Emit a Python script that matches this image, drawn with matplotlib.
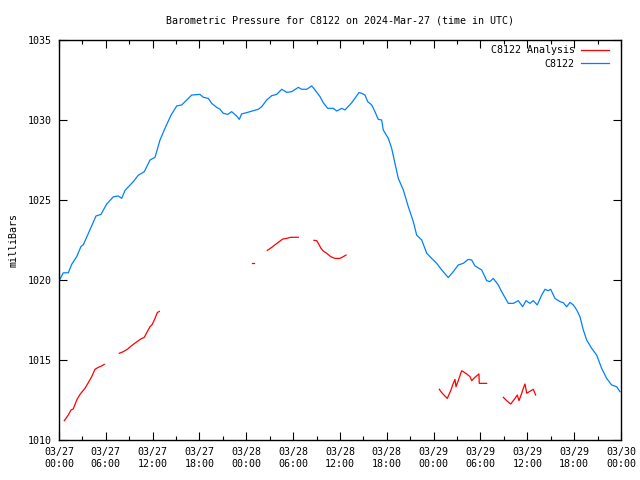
import numpy as np
import pandas as pd
import matplotlib
matplotlib.use("Agg")
import matplotlib.pyplot as plt
import matplotlib.dates as mdates

start = pd.Timestamp("2024-03-27 00:00")

# observed station pressure (hours since start, mb)
obs_hours = [0.0, 0.55, 1.19, 1.63, 2.27, 2.82, 3.11, 3.75, 4.74, 5.38, 6.11, 6.96, 7.6, 8.03,
             8.46, 9.52, 10.16, 10.93, 11.66, 12.3, 12.94, 13.58, 14.35, 15.08, 15.72, 17.0,
             18.06, 18.49, 19.13, 19.56, 20.2, 20.63, 21.05, 21.61, 22.12, 22.76, 23.1, 23.4,
             24.05, 24.89, 25.53, 25.97, 26.61, 27.25, 27.89, 28.53, 29.17, 29.81, 30.66, 31.09,
             31.73, 32.37, 32.8, 33.44, 33.86, 34.42, 35.14, 35.58, 36.22, 36.64, 37.5, 38.43,
             38.78, 39.2, 39.55, 40.06, 40.48, 40.9, 41.34, 41.54, 42.19, 42.62, 43.04, 43.47,
             44.11, 44.75, 45.39, 45.82, 46.47, 47.11, 47.75, 48.39, 49.03, 49.87, 50.51, 51.15,
             51.79, 52.43, 52.87, 53.29, 54.15, 54.79, 55.21, 55.64, 56.28, 56.71, 57.56, 58.2,
             58.84, 59.4, 59.83, 60.34, 60.76, 61.27, 61.84, 62.26, 62.68, 62.99, 63.54, 64.18,
             64.6, 65.04, 65.46, 65.89, 66.32, 66.74, 67.17, 67.6, 68.24, 68.88, 69.52, 70.16,
             70.8, 71.45, 71.87]
obs_mb = [1019.94, 1020.45, 1020.45, 1020.98, 1021.46, 1022.1, 1022.2, 1022.9, 1024.0, 1024.1,
          1024.75, 1025.2, 1025.25, 1025.1, 1025.6, 1026.15, 1026.55, 1026.77, 1027.5, 1027.67,
          1028.75, 1029.48, 1030.3, 1030.88, 1030.94, 1031.56, 1031.6, 1031.42, 1031.35, 1031.04,
          1030.79, 1030.67, 1030.42, 1030.35, 1030.52, 1030.25, 1030.04, 1030.38, 1030.46, 1030.58,
          1030.67, 1030.83, 1031.25, 1031.52, 1031.6, 1031.92, 1031.73, 1031.77, 1032.04, 1031.92,
          1031.92, 1032.13, 1031.88, 1031.46, 1031.08, 1030.73, 1030.73, 1030.56, 1030.73, 1030.63,
          1031.08, 1031.71, 1031.67, 1031.56, 1031.15, 1030.94, 1030.52, 1030.04, 1030.0, 1029.38,
          1028.85, 1028.23, 1027.29, 1026.35, 1025.63, 1024.58, 1023.65, 1022.81, 1022.5, 1021.67,
          1021.35, 1021.04, 1020.63, 1020.15, 1020.52, 1020.94, 1021.04, 1021.29, 1021.25, 1020.88,
          1020.63, 1019.96, 1019.9, 1020.1, 1019.69, 1019.27, 1018.54, 1018.54, 1018.71, 1018.33,
          1018.71, 1018.54, 1018.71, 1018.44, 1019.06, 1019.42, 1019.33, 1019.42, 1018.85, 1018.65,
          1018.58, 1018.33, 1018.6, 1018.44, 1018.13, 1017.71, 1016.88, 1016.25, 1015.73, 1015.31,
          1014.48, 1013.85, 1013.44, 1013.33, 1013.02]

# analysis pressure, broken into pieces (gaps between them)
ana_hours = [
    [0.68, 1.19, 1.54, 1.83, 2.27, 2.69, 3.33, 3.75, 4.19, 4.61, 5.03, 5.47, 5.8],
    [7.72, 8.24, 8.75, 9.31, 9.95, 10.47, 10.93, 11.31, 11.66, 11.95, 12.3, 12.59, 12.85],
    [24.69, 24.98],
    [26.69, 27.25, 27.76, 28.22, 28.66, 29.17, 29.68, 30.66],
    [32.67, 33.01, 33.27, 33.56, 33.86, 34.29, 34.81, 35.36, 36.0, 36.42, 36.77],
    [48.72, 49.03, 49.74, 50.18, 50.51, 50.73, 50.86, 51.15, 51.59, 52.23, 52.65, 52.87, 53.29,
     53.8, 53.84, 54.79],
    [56.92, 57.35, 57.87, 58.42, 58.71, 58.93, 59.28, 59.48, 59.7, 59.92, 60.25, 60.76, 61.07],
]
ana_mb = [
    [1011.21, 1011.56, 1011.88, 1011.94, 1012.5, 1012.85, 1013.23, 1013.58, 1013.96, 1014.42,
     1014.54, 1014.63, 1014.73],
    [1015.42, 1015.52, 1015.67, 1015.9, 1016.13, 1016.31, 1016.42, 1016.77, 1017.08, 1017.23,
     1017.6, 1017.96, 1018.04],
    [1021.04, 1021.04],
    [1021.85, 1022.04, 1022.23, 1022.4, 1022.56, 1022.6, 1022.67, 1022.67],
    [1022.48, 1022.46, 1022.25, 1021.98, 1021.81, 1021.67, 1021.46, 1021.35, 1021.35, 1021.46,
     1021.56],
    [1013.17, 1012.96, 1012.6, 1013.08, 1013.54, 1013.79, 1013.33, 1013.71, 1014.33, 1014.13,
     1013.96, 1013.71, 1013.92, 1014.13, 1013.54, 1013.54],
    [1012.67, 1012.46, 1012.25, 1012.6, 1012.81, 1012.46, 1012.92, 1013.23, 1013.5, 1012.92,
     1013.02, 1013.17, 1012.81],
]


def to_time(hours):
    return start + pd.to_timedelta(np.array(hours), unit="h")


plt.rcParams['font.family'] = ['DejaVu Sans Mono']
plt.rcParams['font.size'] = 7.2

fig = plt.figure(figsize=(6.4, 4.8), dpi=100)
ax = fig.add_axes([59 / 640, 40 / 480, 562 / 640, 400 / 480])

for i, (h, p) in enumerate(zip(ana_hours, ana_mb)):
    ax.plot(to_time(h), p, color="#ff0000", lw=0.9,
            label="C8122 Analysis" if i == 0 else None)
ax.plot(to_time(obs_hours), obs_mb, color="#0080ff", lw=0.9, label="C8122")

ax.set_xlim(start, start + pd.Timedelta(hours=72))
ax.set_ylim(1010, 1035)
ax.set_yticks(np.arange(1010, 1036, 5))

ax.xaxis.set_major_locator(mdates.HourLocator(byhour=range(0, 24, 6)))
ax.xaxis.set_minor_locator(mdates.HourLocator(byhour=range(0, 24, 3)))
ax.xaxis.set_major_formatter(mdates.DateFormatter("%m/%d\n%H:%M"))

ax.tick_params(which="both", direction="in", top=True, right=True, color="black")
ax.tick_params(which="major", length=6, width=0.8, pad=5)
ax.tick_params(which="minor", length=3, width=0.8)
for s in ax.spines.values():
    s.set_linewidth(1.0)

ax.set_ylabel("milliBars", labelpad=7)
ax.set_title("Barometric Pressure for C8122 on 2024-Mar-27 (time in UTC)",
             fontsize=7.2, pad=12)

ax.legend(loc="upper right", bbox_to_anchor=(0.988, 1.0), frameon=False,
          markerfirst=False, handlelength=2.8, borderaxespad=0.15,
          labelspacing=0.35, handletextpad=0.6)

fig.savefig("out.png", dpi=100)
